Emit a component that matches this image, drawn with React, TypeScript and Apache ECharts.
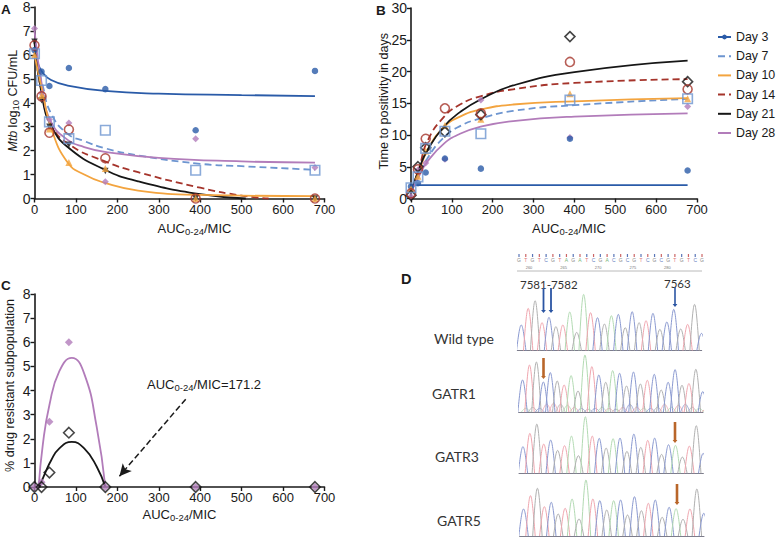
import React, { useEffect, useRef } from "react";
import * as echarts from "echarts";

const DOSES = [0, 17, 36, 83, 171, 389, 677];
const DAYS = ["Day 3", "Day 7", "Day 10", "Day 14", "Day 21", "Day 28"];
const X_TICK_MAX = 700;

// Panel A: observed values
const aDay3 = [6.2, 5.3, 4.7, 5.45, 4.57, 2.85, 5.33];
const aDay7 = [6.05, 4.93, 3.2, 2.5, 2.85, 1.18, 1.18];
const aDay10 = [6.0, 4.3, 2.9, 1.5, 1.25, 0, 0];
const aDay14 = [6.4, 4.27, 2.75, 2.88, 1.68, 0, 0];
const aDay21 = [6.55, 4.1, 3.0, 2.25, 1.15, 0, 0];
const aDay28 = [7.1, 4.4, 3.3, 3.15, 0.7, 2.5, 1.3];
// Panel A: fitted curves
const aFit3 = [[0, 6.2], [8, 5.65], [20, 5.25], [40, 4.95], [80, 4.72], [170, 4.5], [300, 4.38], [500, 4.32], [677, 4.28]];
const aFit7 = [[0, 6.1], [20, 4.7], [40, 3.55], [80, 2.7], [120, 2.4], [170, 2.1], [250, 1.8], [400, 1.45], [500, 1.35], [677, 1.2]];
const aFit10 = [[0, 6.0], [20, 4.4], [40, 2.95], [80, 1.5], [120, 1.0], [170, 0.65], [250, 0.33], [400, 0.15], [677, 0.1]];
const aFit14 = [[0, 6.3], [20, 4.2], [40, 3.1], [80, 2.3], [170, 1.55], [250, 1.1], [400, 0.45], [500, 0.12], [565, 0]];
const aFit21 = [[0, 6.5], [20, 4.1], [40, 3.05], [80, 2.15], [170, 1.2], [250, 0.72], [400, 0.18], [510, 0]];
const aFit28 = [[0, 7.0], [20, 4.5], [40, 3.2], [80, 2.45], [120, 2.15], [170, 1.95], [300, 1.7], [500, 1.55], [677, 1.5]];

// Panel B: observed values
const bDay3 = [1.9, 2.4, 4.1, 6.3, 4.7, 9.4, 4.4];
const bDay7 = [1.7, 3.4, 7.9, 10.6, 10.2, 15.5, 15.7];
const bDay10 = [1.5, 3.5, 7.5, 11.5, 12.5, 16.5, 15.7];
const bDay14 = [0.8, 4.6, 9.4, 14.2, 13.4, 21.5, 17.2];
const bDay21 = [0.5, 5.0, 8.0, 10.5, 13.2, 25.5, 18.4];
const bDay28 = [0.3, 4.5, 5.6, 6.2, 15.5, 9.6, 14.5];
// Panel B: fitted curves
const bFit3 = [[0, 2.1], [677, 2.1]];
const bFit7 = [[0, 1.2], [20, 3.6], [40, 6.3], [80, 9.6], [120, 11.4], [170, 12.6], [250, 13.8], [400, 14.7], [677, 15.7]];
const bFit10 = [[0, 1.3], [20, 4.3], [40, 7.6], [80, 11.2], [120, 12.9], [170, 14], [250, 14.8], [400, 15.3], [677, 15.8]];
const bFit14 = [[0, 1], [20, 4.8], [40, 9.0], [80, 12.8], [120, 14.8], [170, 16.1], [250, 17.2], [400, 18.2], [677, 18.8]];
const bFit21 = [[0, 1], [20, 4.7], [40, 7.6], [80, 11.3], [120, 13.6], [170, 15.6], [250, 17.8], [400, 19.9], [677, 21.7]];
const bFit28 = [[0, 1], [20, 3.6], [40, 5.8], [80, 8.6], [120, 10.2], [170, 11.3], [250, 12.2], [400, 12.9], [677, 13.4]];

// Panel C
const cDay21 = [0, 0, 0.6, 2.25, 0, 0, 0];
const cDay28 = [0, 0.2, 2.7, 6, 0, 0, 0];
const cFit21 = [[12, 0], [25, 0.55], [40, 1.1], [60, 1.6], [90, 1.87], [120, 1.6], [150, 0.85], [171, 0]];
const cFit28 = [[10, 0], [20, 1.75], [36, 3.4], [60, 4.8], [90, 5.35], [120, 4.7], [150, 2.5], [171, 0]];
const ANNOTATION = "AUC{s|0-24}/MIC=171.2";
const ARROW_FROM = [365, 3.64];
const ARROW_TO = [205, 0.45];

// Panel D: chromatogram peaks, heights and bases
const wildBases = "brkrbkrgkgrbkgbkbkrbkbbkrkb".split("");
const gatr1Bases = "brkbbkrgkgrbkgbkbkrbkbbkrkb".split("");
const gatr3Bases = "brkrbkrgkgrbkgbkbkrbkbgkrkb".split("");
const gatr5Bases = "brkrbkrgkgrbkgbkbkrbkbgkrkb".split("");
const wildHeights = [25.7, 42.3, 50, 28, 33.3, 24, 25.7, 38.7, 18.3, 56.3, 38, 33, 26.7, 35, 36.3, 23, 39, 28, 30, 37.3, 21.3, 28.7, 41.3, 21.7, 26.3, 46.3, 17.3];
const gatr1Heights = [32.3, 47.3, 50.3, 30.3, 39.7, 31.3, 27.3, 36.7, 21.3, 57.3, 45.7, 37.3, 30, 41.7, 39, 26.3, 40.3, 28.3, 32, 38, 22.3, 30, 42.7, 27, 28.7, 43, 20.7];
const gatr1Noise = [4, 5, 4, 8, 9, 8, 7, 5, 4, 3, 4, 5, 4, 3, 5, 8, 5, 4, 4, 5, 8, 5, 7, 8, 5, 4, 3];
const gatr1NoiseBases = "gkbrrkgrbkbgrkrbrgbkrgrbkgr".split("");
const gatr3Heights = [26.7, 40, 49.3, 29.3, 33.3, 23, 27.7, 37.3, 17.7, 56.7, 37.3, 35, 25.3, 34.7, 35.3, 22, 39.3, 26, 33, 35.3, 19, 28.7, 28, 16.3, 27.3, 47.7, 20];
const gatr5Heights = [27, 40.3, 47.7, 29.3, 33.7, 22, 27.7, 37, 17, 56, 37, 35.3, 26, 35.3, 36, 21, 39.3, 25.3, 32.7, 36, 18.7, 28.7, 27.3, 16.7, 27, 47, 22.7];
const SEQUENCE = "GTGTCGTAGATCGACGCGTCGCGTGTCG".split("");
const RULER_LABELS = ["260", "265", "270", "275", "280"];
const TRACE_LABELS = ["Wild type", "GATR1", "GATR3", "GATR5"];

const INK = "#1a1a1a";
const DAY_COLORS = ["#2a5ba8", "#6d95d0", "#f3a43f", "#a5342b", "#161616", "#b27cba"];
const BASE_COLORS: Record<string, string> = { b: "#8a99d0", r: "#efa5ae", k: "#b0b0b0", g: "#b2dab2" };
const BLUE_ARROW = "#2b55a3";
const ORANGE_ARROW = "#b9662a";
const FONT = "'Liberation Sans', Arial, sans-serif";
const D_FONT = "Lato, 'Open Sans', sans-serif";

const pairs = (ys: number[]) => ys.map((y, i) => [DOSES[i], y]);

function curve(name: string, day: number, data: number[][], xAxisIndex: number) {
  const dashed = day === 1 || day === 3;
  return {
    type: "line", name, data, xAxisIndex, yAxisIndex: xAxisIndex,
    showSymbol: false, symbol: "circle", symbolSize: 6, smooth: 0.5, clip: false,
    itemStyle: { color: DAY_COLORS[day] },
    lineStyle: { color: DAY_COLORS[day], width: 1.8, type: dashed ? [7, 4] : "solid" },
    z: 3,
  };
}

type Mark = { symbol: string; size: number; fill: string; stroke: string; rotate?: number; z?: number };
function points(name: string, day: number, ys: number[], axis: number, m: Mark) {
  return {
    type: "scatter", name, data: pairs(ys), xAxisIndex: axis, yAxisIndex: axis, clip: false,
    symbol: m.symbol, symbolSize: m.size, symbolRotate: m.rotate ?? 0,
    itemStyle: { color: m.fill, borderColor: m.stroke, borderWidth: m.stroke === "none" ? 0 : 1.6 },
    z: m.z ?? 4,
  };
}

const MARK_DOT: Mark = { symbol: "circle", size: 6.5, fill: DAY_COLORS[0], stroke: "none" };
const MARK_SQUARE: Mark = { symbol: "rect", size: 9.5, fill: "rgba(255,255,255,0)", stroke: DAY_COLORS[1], z: 6 };
const MARK_TRI: Mark = { symbol: "triangle", size: 7, fill: DAY_COLORS[2], stroke: "none" };
const MARK_RING: Mark = { symbol: "circle", size: 9, fill: "rgba(255,255,255,0)", stroke: DAY_COLORS[3], z: 5 };
const MARK_DOWN: Mark = { symbol: "triangle", size: 6.5, fill: DAY_COLORS[4], stroke: "none", rotate: 180 };
const MARK_OPEN_DIAMOND: Mark = { symbol: "diamond", size: 10, fill: "rgba(255,255,255,0)", stroke: DAY_COLORS[4], z: 5 };
const MARK_PINK: Mark = { symbol: "diamond", size: 7, fill: DAY_COLORS[5], stroke: "none" };

function axisX(gridIndex: number, name: string, shift: number, gap: number) {
  return {
    type: "value", gridIndex, min: 0, max: X_TICK_MAX, interval: 100,
    name, nameLocation: "middle", nameGap: gap, nameMoveOverlap: false,
    nameTextStyle: { fontFamily: FONT, fontSize: 13, color: INK, padding: [0, 0, 0, shift], rich: { s: { fontSize: 9.5, verticalAlign: "bottom", padding: [6, 0, 0, 0], fontFamily: FONT, color: INK } } },
    axisLine: { show: true, onZero: false, lineStyle: { color: INK, width: 1.6 } },
    axisTick: { show: true, length: 4, lineStyle: { color: INK, width: 1.4 } },
    axisLabel: { fontFamily: FONT, fontSize: 13, color: INK, margin: 4, hideOverlap: false },
    splitLine: { show: false },
  };
}

function axisY(gridIndex: number, max: number, interval: number, name: string, gap: number, shift: number, rich: object) {
  return {
    type: "value", gridIndex, min: 0, max, interval,
    name, nameLocation: "middle", nameGap: gap, nameRotate: 90, nameMoveOverlap: false,
    nameTextStyle: { fontFamily: FONT, fontSize: 12.6, color: INK, padding: [0, 0, 0, shift], rich },
    axisLine: { show: true, onZero: false, lineStyle: { color: INK, width: 1.6 } },
    axisTick: { show: true, length: 4, lineStyle: { color: INK, width: 1.4 } },
    axisLabel: { fontFamily: FONT, fontSize: 14, color: INK, margin: 4 },
    splitLine: { show: false },
  };
}

function text(x: number, y: number, t: string, o: Record<string, unknown> = {}) {
  return {
    type: "text", x, y, silent: true,
    style: { text: t, fontFamily: FONT, fontSize: 13, fill: INK, verticalAlign: "middle", ...o },
  };
}

function arrow(x: number, y0: number, y1: number, color: string, width: number) {
  return [
    { type: "line", silent: true, shape: { x1: x, y1: y0, x2: x, y2: y1 - 2 }, style: { stroke: color, lineWidth: width } },
    { type: "polygon", silent: true, shape: { points: [[x - 2.4, y1 - 3], [x + 2.4, y1 - 3], [x, y1]] }, style: { fill: color } },
  ];
}

function peakSeries(axis: number, heights: number[], bases: string[], shift = 0.57, lineWidth = 1) {
  return {
    type: "custom", xAxisIndex: axis, yAxisIndex: axis, clip: true, silent: true,
    data: heights.map((h, i) => [i + shift, h, i]),
    encode: { x: 0, y: 1 },
    renderItem: (_p: unknown, api: any) => {
      const x = api.value(0);
      const base = api.coord([x, 0]);
      const top = api.coord([x, api.value(1)]);
      const unit = api.coord([x + 1, 0])[0] - base[0];
      const w = unit * 0.68;
      const ctrl = base[1] - (base[1] - top[1]) / 0.75;
      return {
        type: "bezierCurve",
        shape: { x1: base[0] - w, y1: base[1], x2: base[0] + w, y2: base[1], cpx1: base[0] - w * 0.12, cpy1: ctrl, cpx2: base[0] + w * 0.12, cpy2: ctrl },
        style: { stroke: BASE_COLORS[bases[api.value(2)]], fill: "none", lineWidth },
      };
    },
    z: 2,
  };
}

const TRACE_SLOTS = [
  { left: 517.3, top: 290.7 },
  { left: 518.6, top: 352.3 },
  { left: 519, top: 413.4 },
  { left: 519.6, top: 476 },
];
const CHART_GRIDS = [
  { left: 34.5, top: 6, width: 290, height: 192.5 },
  { left: 411, top: 8, width: 286, height: 190.5 },
  { left: 34.5, top: 294, width: 290, height: 193 },
];

function buildOption() {
  const subRich = { s: { fontSize: 9.5, verticalAlign: "bottom", padding: [6, 0, 0, 0], fontFamily: FONT, color: INK }, i: { fontStyle: "italic", fontFamily: FONT, fontSize: 12.6, color: INK } };
  const traceAxes = TRACE_SLOTS.map((_, i) => 3 + i);
  const grids = [
    ...CHART_GRIDS,
    ...TRACE_SLOTS.map((s) => ({ left: s.left, top: s.top, width: 184.4, height: 60 })),
  ];
  const xAxes = [
    axisX(0, "AUC{s|0-24}/MIC", 30, 22),
    axisX(1, "AUC{s|0-24}/MIC", 30, 22),
    axisX(2, "AUC{s|0-24}/MIC", 0, 19),
    ...traceAxes.map((g) => ({
      type: "value", gridIndex: g, min: 0, max: 26.6, axisLabel: { show: false }, axisTick: { show: false }, splitLine: { show: false },
      axisLine: { show: true, lineStyle: { color: "#7d7d8c", width: 1 } },
    })),
  ];
  const yAxes = [
    axisY(0, 8, 1, "{i|Mtb} log{s|10} CFU/mL", 14, 4, subRich),
    axisY(1, 30, 5, "Time to positivity in days", 21, 4, subRich),
    axisY(2, 8, 1, "% drug resistant subpopulation", 18.5, 10, subRich),
    ...traceAxes.map((g) => ({ type: "value", gridIndex: g, min: 0, max: 60, show: false, splitLine: { show: false } })),
  ];

  const series: any[] = [
    // Panel B comes first, its curves are what the legend shows
    curve(DAYS[0], 0, bFit3, 1),
    curve(DAYS[1], 1, bFit7, 1),
    curve(DAYS[2], 2, bFit10, 1),
    curve(DAYS[3], 3, bFit14, 1),
    curve(DAYS[4], 4, bFit21, 1),
    curve(DAYS[5], 5, bFit28, 1),
    points(DAYS[5], 5, bDay28, 1, MARK_PINK),
    points(DAYS[0], 0, bDay3, 1, MARK_DOT),
    points(DAYS[2], 2, bDay10, 1, MARK_TRI),
    points(DAYS[4], 4, bDay21, 1, MARK_OPEN_DIAMOND),
    points(DAYS[3], 3, bDay14, 1, MARK_RING),
    points(DAYS[1], 1, bDay7, 1, MARK_SQUARE),
    // Panel A
    curve(DAYS[0], 0, aFit3, 0),
    curve(DAYS[1], 1, aFit7, 0),
    curve(DAYS[3], 3, aFit14, 0),
    curve(DAYS[4], 4, aFit21, 0),
    curve(DAYS[5], 5, aFit28, 0),
    curve(DAYS[2], 2, aFit10, 0),
    points(DAYS[5], 5, aDay28, 0, MARK_PINK),
    points(DAYS[0], 0, aDay3, 0, MARK_DOT),
    points(DAYS[4], 4, aDay21, 0, MARK_DOWN),
    points(DAYS[2], 2, aDay10, 0, MARK_TRI),
    points(DAYS[3], 3, aDay14, 0, MARK_RING),
    points(DAYS[1], 1, aDay7, 0, MARK_SQUARE),
    // Panel C
    curve(DAYS[5], 5, cFit28, 2),
    {
      ...curve(DAYS[4], 4, cFit21, 2),
      markLine: {
        silent: true, symbol: ["none", "arrow"], symbolSize: [9, 12], label: { show: false }, animation: false,
        lineStyle: { color: INK, type: [6, 3], width: 1.5 },
        data: [[{ coord: ARROW_FROM }, { coord: ARROW_TO }]],
      },
    },
    points(DAYS[5], 5, cDay28, 2, { ...MARK_PINK, size: 8 }),
    points(DAYS[4], 4, cDay21, 2, { ...MARK_OPEN_DIAMOND, size: 10.5 }),
    // Panel D
    peakSeries(4, gatr1Noise, gatr1NoiseBases, 1.05, 0.8),
    peakSeries(3, wildHeights, wildBases),
    peakSeries(4, gatr1Heights, gatr1Bases),
    peakSeries(5, gatr3Heights, gatr3Bases),
    peakSeries(6, gatr5Heights, gatr5Bases),
  ];

  const seqStep = 183 / (SEQUENCE.length - 1);
  const graphics: any[] = [
    text(1, 9, "A", { fontWeight: "bold", fontSize: 13.5 }),
    text(376, 10, "B", { fontWeight: "bold", fontSize: 13.5 }),
    text(1, 285, "C", { fontWeight: "bold", fontSize: 13.5 }),
    text(401, 279, "D", { fontWeight: "bold", fontSize: 14.5 }),
    {
      type: "text", x: 147, y: 384, silent: true,
      style: { text: ANNOTATION, fontFamily: FONT, fontSize: 13, fill: INK, verticalAlign: "middle", rich: { s: { fontSize: 9.5, verticalAlign: "bottom", padding: [6, 0, 0, 0], fontFamily: FONT, fill: INK } } },
    },
    ...TRACE_LABELS.map((t, i) => text([434, 432, 435, 437][i], [338, 393, 456, 520][i], t, { fontFamily: D_FONT, fontSize: 14, fill: "#333" })),
    text(520, 284, "7581-7582", { fontFamily: D_FONT, fontSize: 11.5, fill: "#333" }),
    text(664, 283, "7563", { fontFamily: D_FONT, fontSize: 11.5, fill: "#333" }),
    ...arrow(543.5, 288, 313, BLUE_ARROW, 1.8),
    ...arrow(551, 288, 313, BLUE_ARROW, 1.8),
    ...arrow(675, 287, 307, BLUE_ARROW, 1.6),
    ...arrow(543.5, 358, 379, ORANGE_ARROW, 2.6),
    ...arrow(675, 422, 443, ORANGE_ARROW, 2.6),
    ...arrow(677, 484, 505, ORANGE_ARROW, 2.6),
    { type: "line", silent: true, shape: { x1: 517, y1: 271, x2: 702, y2: 271 }, style: { stroke: "#a8a8a8", lineWidth: 0.8 } },
    ...SEQUENCE.map((c, i) => ({
      type: "line", silent: true,
      shape: { x1: 519 + i * seqStep, y1: 254, x2: 519 + i * seqStep, y2: 257 },
      style: { stroke: i % 2 ? "#c66" : "#5a76b8", lineWidth: 1.2 },
    })),
    ...SEQUENCE.map((c, i) =>
      text(519 + i * seqStep, 259.5, c, {
        fontSize: 5, align: "center",
        fill: { A: "#79b579", C: "#6a7fc0", G: "#888", T: "#d77" }[c],
      })),
    ...RULER_LABELS.map((t, i) =>
      text(529 + i * 34.6, 267.5, t, { fontSize: 4, align: "center", fill: "#777" })),
  ];

  return {
    animation: false,
    backgroundColor: "#ffffff",
    textStyle: { fontFamily: FONT },
    grid: grids,
    xAxis: xAxes,
    yAxis: yAxes,
    legend: {
      left: 717, top: 30, padding: 0, orient: "vertical", selectedMode: false, itemWidth: 13, itemHeight: 6, itemGap: 5.2,
      textStyle: { fontFamily: FONT, fontSize: 12.4, color: INK, lineHeight: 14, height: 14 },
      data: DAYS.map((name, i) => ({ name, itemStyle: i === 0 ? { color: DAY_COLORS[0] } : { opacity: 0 } })),
    },
    series,
    graphic: graphics,
  };
}

export default function App() {
  const ref = useRef<HTMLDivElement>(null);
  useEffect(() => {
    const chart = echarts.init(ref.current!, null, { renderer: "svg" });
    chart.setOption(buildOption() as any);
    return () => chart.dispose();
  }, []);
  return <div ref={ref} style={{ position: "absolute", left: 0, top: 0, width: 776, height: 543 }} />;
}
